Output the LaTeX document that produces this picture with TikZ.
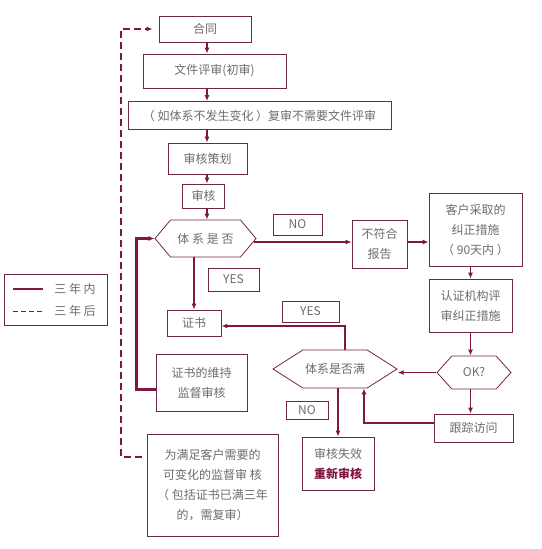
\documentclass[tikz,border=0pt]{standalone}
\usepackage{fontspec}
\setmainfont{Noto Sans CJK SC}
\usetikzlibrary{arrows.meta,shapes.symbols}
\definecolor{linered}{RGB}{128,22,66}
\definecolor{boxline}{RGB}{112,38,72}
\definecolor{txtgray}{RGB}{108,108,108}

\begin{document}
\begin{tikzpicture}[x=1pt,y=-1pt,
  box/.style={draw=boxline,line width=0.8pt,text=txtgray,inner sep=0pt,align=center,
    font=\fontsize{12}{20}\selectfont},
  hexa/.style={box,signal,signal to=west and east},
  flow/.style={draw=linered,line width=1.2pt,-{Latex[length=6pt,width=5pt]}},
  keepflow/.style={flow,line width=3pt},
  dashflow/.style={flow,dash pattern=on 7pt off 4pt}]
\useasboundingbox (0,0) rectangle (541,549);

% main chain
\node[box,minimum width=92,minimum height=26] (hetong) at (205,29) {合同};
\node[box,minimum width=143,minimum height=34] (wenjian) at (214.5,71) {文件评审(初审)};
\node[box,minimum width=263,minimum height=28] (fushen) at (259.5,115.5) {（ 如体系不发生变化 ）复审不需要文件评审};
\node[box,minimum width=79,minimum height=31] (cehua) at (207.5,158.5) {审核策划};
\node[box,minimum width=42,minimum height=24] (shenhe) at (203.5,196) {审核};
\coordinate (spine) at (207,0);
\node[hexa,signal pointer angle=100,minimum width=101,minimum height=37] (tixi) at (205.5,238.5) {体 系 是 否};
\node[box,minimum width=49,minimum height=21] (no1) at (297.5,224.5) {NO};
\node[box,minimum width=51,minimum height=23] (yes1) at (233.5,279.5) {YES};
\node[box,minimum width=54,minimum height=26] (zhengshu) at (194,323) {证书};

% right column
\node[box,minimum width=55,minimum height=48] (bufuhe) at (379.5,244) {不符合\\报告};
\node[box,minimum width=93,minimum height=73] (caiqu) at (475.5,229.5) {客户采取的\\纠正措施\\（ 90天内 ）};
\node[box,minimum width=83,minimum height=53] (renzheng) at (470.5,305.5) {认证机构评\\审纠正措施};
\node[hexa,signal pointer angle=96,minimum width=74,minimum height=33] (ok) at (474,372.5) {OK?};
\node[box,minimum width=79,minimum height=28] (genzong) at (473.5,428) {跟踪访问};

% lower part
\node[hexa,signal pointer angle=65,minimum width=124,minimum height=38] (manzu) at (335,369) {体系是否满};
\node[box,minimum width=57,minimum height=21] (yes2) at (310.5,311.5) {YES};
\node[box,minimum width=42,minimum height=18] (no2) at (307,410) {NO};
\node[box,minimum width=72,minimum height=53] (shixiao) at (338,463.5) {审核失效\\\textcolor{linered}{\textbf{重新审核}}};
\node[box,minimum width=91,minimum height=57] (weichi) at (201.5,382.5) {证书的维持\\监督审核};
\node[box,minimum width=131,minimum height=102] (kehu) at (212.5,485) {为满足客户需要的\\可变化的监督审 核\\（ 包括证书已满三年\\的，需复审）};

% legend
\draw[draw=boxline,line width=0.8pt] (4,274) rectangle (107,325);
\draw[linered,line width=2.5pt] (13,289) -- (43,289);
\draw[linered,line width=1pt,dash pattern=on 5pt off 3pt] (13,311) -- (43,311);
\node[text=txtgray,font=\fontsize{12}{14}\selectfont] (sannei) at (75,289) {三 年 内};
\node[text=txtgray,font=\fontsize{12}{14}\selectfont] (sanhou) at (75,311) {三 年 后};

% connectors
\draw[flow] (hetong.south -| spine) -- (wenjian.north -| spine);
\draw[flow] (wenjian.south -| spine) -- (fushen.north -| spine);
\draw[flow] (fushen.south -| spine) -- (cehua.north -| spine);
\draw[flow] (cehua.south -| spine) -- (shenhe.north -| spine);
\draw[flow] (shenhe.south -| spine) -- (tixi.north -| spine);
\draw[flow] (zhengshu |- tixi.south) -- (zhengshu.north);
\draw[flow] ([xshift=-3,yshift=-3.5]tixi.east) -- ([yshift=2]bufuhe.west);
\draw[flow] ([yshift=2]bufuhe.east) -- ([yshift=2]bufuhe.east -| caiqu.west);
\draw[flow] (renzheng.north |- caiqu.south) -- (renzheng.north);
\draw[flow] (renzheng.south) -- (renzheng.south |- ok.north);
\draw[flow] (ok.south -| renzheng) -- (genzong.north -| renzheng);
\draw[flow] (ok.west) -- (ok.west -| manzu.east);
\draw[flow] ([yshift=5]genzong.west) -| ([xshift=29]manzu.south);
\draw[flow] ([xshift=3]manzu.south) -- ([xshift=3]manzu.south |- shixiao.north);
\draw[flow] ([xshift=10]manzu.north) |- ([yshift=-3]zhengshu.east);
\draw[keepflow] ([yshift=-6.5]weichi.west) -- ++(-19,0) |- (tixi.west);
\coordinate (dashturn) at (121,240);
\draw[dashflow,shorten <=5pt,shorten >=6pt] ([yshift=28]kehu.west) -| (dashturn) |- (hetong.west);
\end{tikzpicture}
\end{document}
